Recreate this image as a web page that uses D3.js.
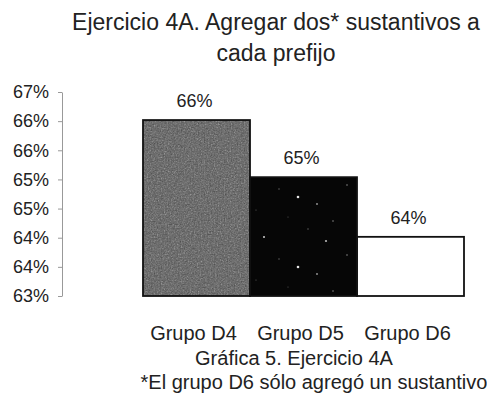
<!DOCTYPE html>
<html>
<head>
<meta charset="utf-8">
<script src="https://cdn.jsdelivr.net/npm/d3@7"></script>
<style>
  html, body { margin: 0; padding: 0; background: #fff; }
  svg { display: block; font-family: "Liberation Sans", Arial, sans-serif; }
</style>
</head>
<body>
<svg id="chart" width="487" height="393"></svg>
<script>
// Data
const categories = ["Grupo D4", "Grupo D5", "Grupo D6"];
const values = [66.45, 65.33, 64.16];       // percent
const tickLabels = ["63%", "64%", "64%", "65%", "65%", "66%", "66%", "67%"];
const yDomain = [63, 67];
const titleLines = ["Ejercicio 4A. Agregar dos* sustantivos a", "cada prefijo"];
const captionLines = ["Gráfica 5. Ejercicio 4A", "*El grupo D6 sólo agregó un sustantivo"];

const svg = d3.select("#chart");
const textColor = "#222";

// Fills: grainy gray, speckled black, plain white
const defs = svg.append("defs");
const grain = defs.append("filter").attr("id", "grain")
  .attr("x", 0).attr("y", 0).attr("width", 1).attr("height", 1);
grain.append("feTurbulence").attr("type", "fractalNoise")
  .attr("baseFrequency", 0.7).attr("numOctaves", 2).attr("seed", 3).attr("result", "noise");
grain.append("feColorMatrix").attr("in", "noise").attr("type", "saturate").attr("values", 0).attr("result", "gnoise");
grain.append("feComposite").attr("in", "SourceGraphic").attr("in2", "gnoise")
  .attr("operator", "arithmetic").attr("k1", 0).attr("k2", 1).attr("k3", 0.5).attr("k4", -0.24).attr("result", "mix");
grain.append("feComposite").attr("in", "mix").attr("in2", "SourceAlpha").attr("operator", "in");

const speck = defs.append("pattern").attr("id", "speck")
  .attr("patternUnits", "userSpaceOnUse").attr("width", 107).attr("height", 70)
  .attr("x", 250).attr("y", 177);
speck.append("rect").attr("width", 107).attr("height", 70).attr("fill", "#060606");
const speckDots = [[48, 20, 1.3, 0.9], [67, 27, 0.9, 0.6], [14, 60, 1.0, 0.8], [83, 44, 0.8, 0.5],
                   [29, 12, 0.7, 0.4], [97, 8, 0.8, 0.5], [58, 52, 0.7, 0.4], [6, 33, 0.6, 0.35],
                   [76, 64, 1.1, 0.7], [38, 40, 0.6, 0.3]];
speck.selectAll("circle").data(speckDots).join("circle")
  .attr("cx", d => d[0]).attr("cy", d => d[1]).attr("r", d => d[2])
  .attr("fill", "#fff").attr("opacity", d => d[3]);

const fills = ["#8c8c8c", "url(#speck)", "#ffffff"];

// Scales
const x = d3.scaleBand().domain(categories).range([143, 464]).padding(0);
const y = d3.scaleLinear().domain(yDomain).range([296, 92]);
const tickValues = tickLabels.map((_, i) => yDomain[0] + i * (yDomain[1] - yDomain[0]) / (tickLabels.length - 1));

// Title
svg.append("g").selectAll("text").data(titleLines).join("text")
  .attr("x", 276).attr("y", (d, i) => 30 + i * 31)
  .attr("text-anchor", "middle").attr("font-size", 23).attr("fill", textColor)
  .text(d => d);

// Y axis
const yAxis = d3.axisLeft(y).tickValues(tickValues)
  .tickFormat((d, i) => tickLabels[i]).tickSize(4).tickPadding(9).tickSizeOuter(0);
const gy = svg.append("g").attr("transform", "translate(62,0)").call(yAxis);
gy.select(".domain").attr("stroke", "#999").attr("stroke-width", 1);
gy.selectAll(".tick line").attr("stroke", "#999");
gy.selectAll(".tick text").attr("font-size", 18).attr("fill", textColor)
  .attr("font-family", "'Liberation Sans', Arial, sans-serif");

// Bars
const bars = svg.append("g");
bars.selectAll("rect").data(values).join("rect")
  .attr("x", (d, i) => x(categories[i]))
  .attr("y", d => y(d))
  .attr("width", x.bandwidth())
  .attr("height", d => y(yDomain[0]) - y(d))
  .attr("fill", (d, i) => fills[i])
  .attr("filter", (d, i) => i === 0 ? "url(#grain)" : null)
  .attr("stroke", "none");
bars.selectAll("rect.edge").data(values).join("rect").attr("class", "edge")
  .attr("x", (d, i) => x(categories[i]))
  .attr("y", d => y(d))
  .attr("width", x.bandwidth())
  .attr("height", d => y(yDomain[0]) - y(d))
  .attr("fill", "none").attr("stroke", "#111").attr("stroke-width", 1.8);

// Value labels
svg.append("g").selectAll("text").data(values).join("text")
  .attr("x", (d, i) => x(categories[i]) + x.bandwidth() / 2 - 2)
  .attr("y", d => y(d) - 13)
  .attr("text-anchor", "middle").attr("font-size", 18).attr("fill", textColor)
  .text(d => d3.format(".0f")(d) + "%");

// Category labels
svg.append("g").selectAll("text").data(categories).join("text")
  .attr("x", d => x(d) + x.bandwidth() / 2 - 3)
  .attr("y", 340)
  .attr("text-anchor", "middle").attr("font-size", 20).attr("fill", textColor)
  .text(d => d);

// Caption
svg.append("g").selectAll("text").data(captionLines).join("text")
  .attr("x", (d, i) => i === 0 ? 294 : 314)
  .attr("y", (d, i) => 365 + i * 24)
  .attr("text-anchor", "middle").attr("font-size", 20).attr("fill", textColor)
  .text(d => d);
</script>
</body>
</html>
